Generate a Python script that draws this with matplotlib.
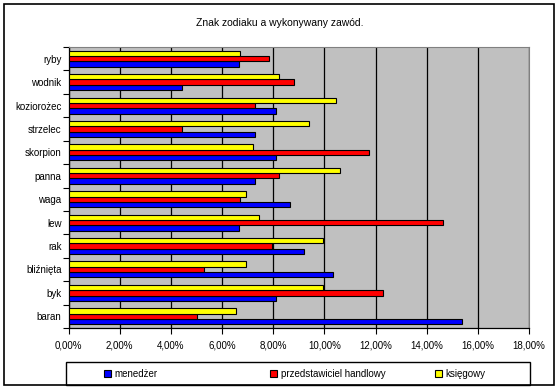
import matplotlib
matplotlib.use('Agg')
import matplotlib.pyplot as plt
from matplotlib.patches import Patch, Rectangle
from matplotlib.ticker import FuncFormatter, MultipleLocator
import numpy as np

plt.rcParams.update({
    'font.family': ['Liberation Sans', 'DejaVu Sans'],
    'font.size': 7,
})

categories = ['baran', 'byk', 'bliźnięta', 'rak', 'lew', 'waga',
              'panna', 'skorpion', 'strzelec', 'koziorożec', 'wodnik', 'ryby']
menedzer = [15.40, 8.13, 10.32, 9.22, 6.65, 8.64, 7.30, 8.13, 7.30, 8.13, 4.42, 6.65]
przedstawiciel = [5.01, 12.31, 5.31, 7.94, 14.62, 6.71, 8.21, 11.73, 4.42, 7.30, 8.82, 7.84]
ksiegowy = [6.53, 9.93, 6.92, 9.93, 7.43, 6.92, 10.63, 7.23, 9.42, 10.44, 8.21, 6.72]

W, H = 560, 389
fig = plt.figure(figsize=(W / 100, H / 100), dpi=100)
ax = fig.add_axes([68.5 / W, 1 - 328 / H, (529 - 68.5) / W, (328 - 47) / H])
ax.set_facecolor('#C0C0C0')

y = np.arange(len(categories))
h = 0.228
series = [(menedzer, '#0000FF', 'menedżer', -h),
          (przedstawiciel, '#FF0000', 'przedstawiciel handlowy', 0),
          (ksiegowy, '#FFFF00', 'księgowy', h)]
for vals, col, lab, off in series:
    ax.barh(y + off, vals, height=h, color=col, edgecolor='black', linewidth=0.8,
            label=lab, zorder=3)

ax.set_xlim(0, 18)
ax.set_ylim(-0.5, len(categories) - 0.5)
ax.xaxis.set_major_locator(MultipleLocator(2))
ax.xaxis.set_major_formatter(FuncFormatter(lambda v, p: f'{v:.2f}'.replace('.', ',') + '%'))
ax.grid(axis='x', color='black', linewidth=0.9, zorder=1)

ax.set_yticks(y)
ax.set_yticklabels(categories)
ax.set_yticks(np.arange(-0.5, len(categories)), minor=True)
ax.tick_params(axis='y', which='major', length=0, pad=5)
ax.tick_params(axis='y', which='minor', length=4, width=0.8, direction='out')
ax.tick_params(axis='x', length=4, width=0.8, direction='out', pad=5)

for s in ['top', 'right']:
    ax.spines[s].set_color('#808080')
for s in ['left', 'bottom']:
    ax.spines[s].set_color('black')
    ax.spines[s].set_linewidth(0.9)

fig.text(280 / W, 1 - 23 / H, 'Znak zodiaku a wykonywany zawód.', ha='center', va='center', fontsize=7.5)

# outer chart border and legend box
fig.patches.append(Rectangle((4 / W, 4 / H), 550 / W, 381 / H, transform=fig.transFigure,
                             fill=False, edgecolor='black', linewidth=1.2))
fig.patches.append(Rectangle((66 / W, 4 / H), 464 / W, 23 / H, transform=fig.transFigure,
                             fill=False, edgecolor='black', linewidth=1))

# legend entries at equal intervals, Excel style
entry_x = [104, 270, 435]
for (_, c, l, _), ex in zip(series, entry_x):
    fig.legend(handles=[Patch(facecolor=c, edgecolor='black', linewidth=0.8, label=l)],
               loc='center left', bbox_to_anchor=(ex / W, 1 - 374 / H), frameon=False,
               handlelength=0.7, handleheight=0.7, handletextpad=0.4, fontsize=7,
               borderaxespad=0, borderpad=0)

fig.savefig('out.png', dpi=100)
